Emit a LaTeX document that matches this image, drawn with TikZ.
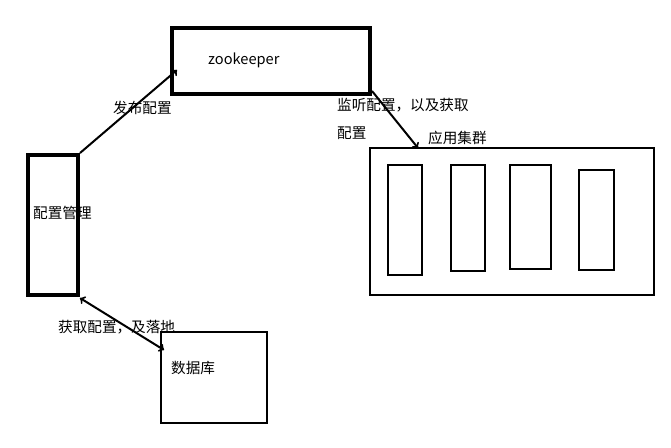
\documentclass[tikz,border=0pt]{standalone}
\usepackage{fontspec}
\setmainfont{Noto Sans CJK SC}
\usetikzlibrary{positioning}
\tikzset{
  box/.style={draw,line width=#1,inner sep=0pt},
  lbl/.style={anchor=west,inner sep=0pt,font=\fontsize{14.6}{16}\selectfont},
  link/.style={line width=2pt,-to}
}
\begin{document}
\begin{tikzpicture}[x=1pt,y=-1pt]
        %画布
            \useasboundingbox (0,0) rectangle (671,447);
        %方框
            \node [box=4pt,minimum width=198pt,minimum height=66pt] (zk) at (271,61) {};
            \node [box=4pt,minimum width=50pt,minimum height=140pt] (mgr) at (53,225) {};
            \node [box=2pt,minimum width=284pt,minimum height=147pt] (app) at (512,221.5) {};
            \node [box=1.5pt,minimum width=106pt,minimum height=91pt] (db) at (214,377.5) {};
            \draw [line width=2pt] (388,165) rectangle (422,275) (451,165) rectangle (485,271)
                  (510,165) rectangle (551,269) (579,170) rectangle (614,270);
        %文字
            \node [lbl] (zkt) at (208,60) {zookeeper};
            \node [lbl] (mgrt) at (33,213) {配置管理};
            \node [lbl] (dbt) at (171,368) {数据库};
            \node [lbl] (appt) at (428,138) {应用集群};
            \node [lbl] (pub) at (113,108) {发布配置};
            \node [lbl] (lis) at (337,105) {监听配置，以及获取};
            \node [lbl] (lis2) at (337,133) {配置};
            \node [lbl] (get) at (58,327) {获取配置，及落地};
        %箭头
            \coordinate (zkin) at (177,70);
            \coordinate (appin) at (418,148);
            \coordinate (dbin) at (164,350);
            \draw [link] (mgr.north east) -- (zkin);
            \draw [link] (372,91) -- (appin);
            \draw [link,to-to] (80,298) -- (dbin);
\end{tikzpicture}
\end{document}
